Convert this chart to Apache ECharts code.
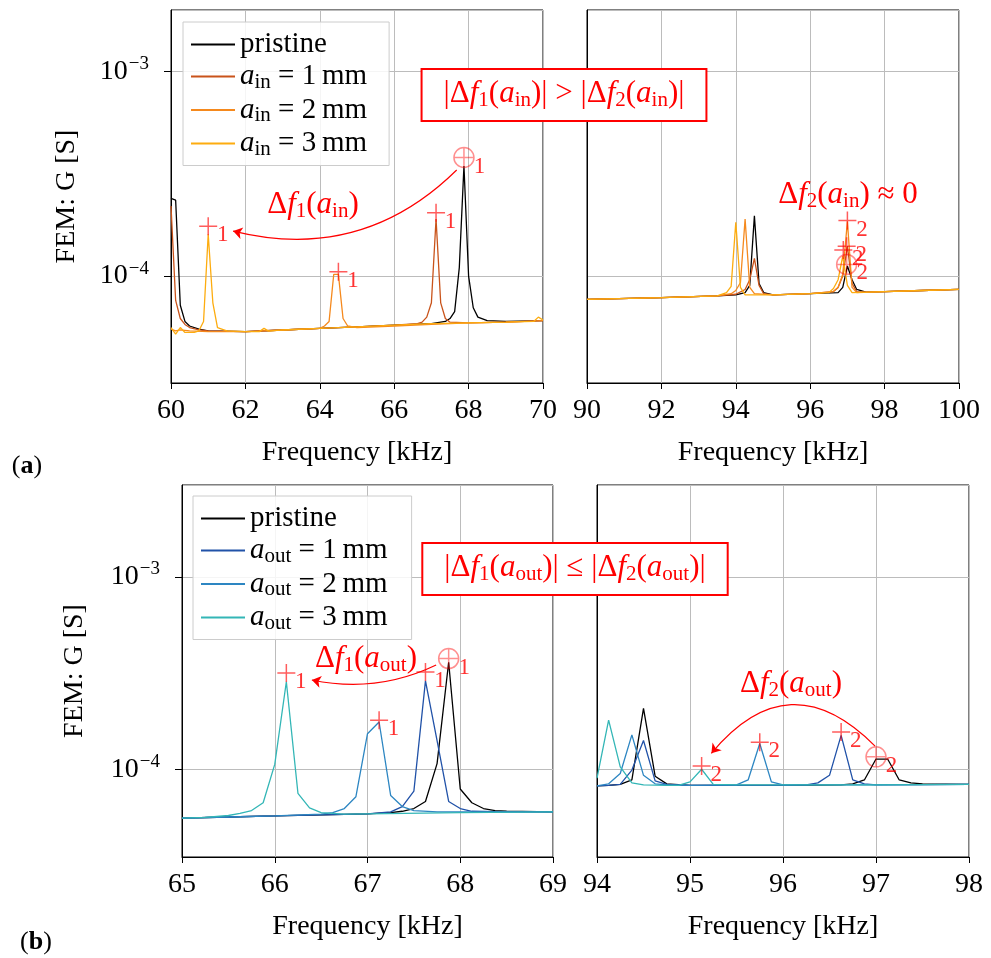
<!DOCTYPE html>
<html><head><meta charset="utf-8">
<script src="https://cdn.jsdelivr.net/npm/echarts@6/dist/echarts.min.js"></script>
<style>html,body{margin:0;padding:0;background:#fff}#c{width:991px;height:958px}</style>
</head><body><div id="c"></div>
<script>
const FONT = "'Liberation Serif','Times New Roman',serif";

// ---------- Panel (a) left: 60-70 kHz ----------
const aPristineL = [[60,2.4e-4],[60.125,2.35e-4],[60.25,7.2e-5],[60.375,6.0e-5],[60.5,5.7e-5],[60.75,5.5e-5],[61,5.4e-5],[62,5.35e-5],[63,5.45e-5],[64,5.55e-5],[65,5.65e-5],[66,5.75e-5],[67,5.85e-5],[67.375,6.0e-5],[67.5,6.2e-5],[67.625,6.7e-5],[67.75,1.1e-4],[67.875,3.45e-4],[68.0,1.0e-4],[68.125,7.0e-5],[68.25,6.3e-5],[68.5,6.05e-5],[69,6.0e-5],[70,6.05e-5]];
const aIn1L = [[60,2.2e-4],[60.125,7.6e-5],[60.25,6.2e-5],[60.375,5.8e-5],[60.5,5.6e-5],[60.75,5.45e-5],[61,5.4e-5],[62,5.35e-5],[63,5.45e-5],[64,5.55e-5],[65,5.65e-5],[66,5.75e-5],[66.625,5.85e-5],[66.75,5.95e-5],[66.875,6.3e-5],[67.0,7.4e-5],[67.125,1.9e-4],[67.25,7.4e-5],[67.375,6.2e-5],[67.5,5.95e-5],[68,5.9e-5],[69,5.95e-5],[70,6.05e-5]];
const aIn2L = [[60,5.5e-5],[60.125,5.4e-5],[60.25,5.45e-5],[60.5,5.4e-5],[61,5.35e-5],[62,5.35e-5],[63,5.45e-5],[64,5.55e-5],[64.125,5.7e-5],[64.25,6.0e-5],[64.375,1.02e-4],[64.5,1.02e-4],[64.625,6.2e-5],[64.75,5.7e-5],[65,5.6e-5],[66,5.7e-5],[67,5.8e-5],[68,5.9e-5],[69,5.95e-5],[70,6.05e-5]];
const aIn3L = [[60,5.6e-5],[60.125,5.2e-5],[60.25,5.6e-5],[60.375,5.3e-5],[60.625,5.3e-5],[60.75,5.4e-5],[60.875,6.0e-5],[61.0,1.6e-4],[61.125,7.4e-5],[61.25,5.6e-5],[61.5,5.4e-5],[62,5.35e-5],[62.375,5.35e-5],[62.5,5.55e-5],[62.625,5.38e-5],[63,5.45e-5],[64,5.55e-5],[65,5.65e-5],[66,5.75e-5],[67,5.85e-5],[68,5.9e-5],[69,5.95e-5],[69.75,6.0e-5],[69.875,6.3e-5],[70,6.1e-5]];
const aPlusL = [[61.0,1.75e-4],[64.5,1.05e-4],[67.125,2.04e-4]];
const aOplusL = [[67.875,3.8e-4]];
const aArrowL = [[67.68,3.3e-4],[61.67,1.66e-4]];

// ---------- Panel (a) right: 90-100 kHz ----------
const aPristineR = [[90,7.7e-5],[92,7.85e-5],[93.5,8.0e-5],[94.0,8.1e-5],[94.25,8.3e-5],[94.375,9.0e-5],[94.5,1.97e-4],[94.625,9.2e-5],[94.75,8.3e-5],[95,8.1e-5],[96,8.2e-5],[96.75,8.3e-5],[96.875,8.8e-5],[97.0,1.12e-4],[97.125,9.6e-5],[97.25,8.6e-5],[97.5,8.35e-5],[98,8.4e-5],[99,8.5e-5],[100,8.6e-5]];
const aIn1R = [[90,7.7e-5],[92,7.85e-5],[93.5,8.0e-5],[94.0,8.15e-5],[94.25,8.6e-5],[94.375,9.6e-5],[94.5,1.22e-4],[94.625,9.0e-5],[94.75,8.2e-5],[95,8.1e-5],[96,8.2e-5],[96.625,8.4e-5],[96.75,8.8e-5],[96.875,1.0e-4],[97.0,1.4e-4],[97.125,9.2e-5],[97.25,8.4e-5],[97.5,8.35e-5],[98,8.4e-5],[99,8.5e-5],[100,8.6e-5]];
const aIn2R = [[90,7.7e-5],[92,7.85e-5],[93.5,8.0e-5],[93.875,8.2e-5],[94.0,8.5e-5],[94.125,9.3e-5],[94.25,1.9e-4],[94.375,8.8e-5],[94.5,8.2e-5],[95,8.1e-5],[96,8.2e-5],[96.625,8.4e-5],[96.75,8.8e-5],[96.875,1.02e-4],[97.0,1.85e-4],[97.125,8.8e-5],[97.25,8.3e-5],[98,8.4e-5],[99,8.5e-5],[100,8.6e-5]];
const aIn3R = [[90,7.7e-5],[92,7.85e-5],[93.5,8.0e-5],[93.75,8.3e-5],[93.875,8.9e-5],[94.0,1.83e-4],[94.125,8.8e-5],[94.25,8.1e-5],[95,8.1e-5],[96,8.2e-5],[96.5,8.3e-5],[96.625,8.7e-5],[96.75,9.6e-5],[96.875,1.25e-4],[97.0,9.0e-5],[97.125,8.3e-5],[98,8.4e-5],[99,8.5e-5],[100,8.6e-5]];
const aPlusR = [[97.0,1.87e-4],[96.98,1.4e-4],[96.89,1.34e-4]];
const aOplusR = [[96.98,1.14e-4]];

// ---------- Panel (b) left: 65-69 kHz ----------
const bPristineL = [[65,5.57e-5],[65.5,5.65e-5],[66,5.72e-5],[66.5,5.8e-5],[67,5.87e-5],[67.25,5.95e-5],[67.375,6.05e-5],[67.5,6.25e-5],[67.625,6.8e-5],[67.75,1.07e-4],[67.875,3.6e-4],[68.0,7.9e-5],[68.125,6.7e-5],[68.25,6.25e-5],[68.375,6.1e-5],[68.5,6.05e-5],[69,6.0e-5]];
const bOut1L = [[65,5.57e-5],[65.5,5.65e-5],[66,5.72e-5],[66.5,5.8e-5],[67,5.87e-5],[67.25,6.0e-5],[67.375,6.4e-5],[67.5,7.7e-5],[67.625,2.88e-4],[67.75,1.41e-4],[67.875,6.8e-5],[68.0,6.25e-5],[68.125,6.05e-5],[68.5,6.0e-5],[69,6.0e-5]];
const bOut2L = [[65,5.57e-5],[65.5,5.65e-5],[66,5.72e-5],[66.5,5.85e-5],[66.625,5.95e-5],[66.75,6.25e-5],[66.875,7.2e-5],[67.0,1.53e-4],[67.125,1.76e-4],[67.25,7.3e-5],[67.375,6.4e-5],[67.5,6.1e-5],[67.75,6.0e-5],[68,6.0e-5],[69,6.0e-5]];
const bOut3L = [[65,5.57e-5],[65.25,5.62e-5],[65.5,5.75e-5],[65.625,5.9e-5],[65.75,6.1e-5],[65.875,6.7e-5],[66.0,1.06e-4],[66.125,2.85e-4],[66.25,7.5e-5],[66.375,6.3e-5],[66.5,5.95e-5],[66.75,5.85e-5],[67,5.87e-5],[68,5.95e-5],[69,6.0e-5]];
const bPlusL = [[66.125,3.16e-4],[67.125,1.8e-4],[67.625,3.2e-4]];
const bOplusL = [[67.875,3.76e-4]];
const bArrowL = [[67.74,3.48e-4],[66.4,2.91e-4]];

// ---------- Panel (b) right: 94-98 kHz ----------
const bPristineR = [[94,8.2e-5],[94.125,8.25e-5],[94.25,8.35e-5],[94.375,8.8e-5],[94.5,2.07e-4],[94.625,9.2e-5],[94.75,8.4e-5],[95,8.25e-5],[96,8.25e-5],[96.625,8.3e-5],[96.75,8.4e-5],[96.875,8.8e-5],[97.0,1.13e-4],[97.125,1.13e-4],[97.25,8.8e-5],[97.375,8.5e-5],[97.5,8.4e-5],[98,8.35e-5]];
const bOut1R = [[94,8.2e-5],[94.125,8.25e-5],[94.25,8.35e-5],[94.375,9.9e-5],[94.5,1.41e-4],[94.625,8.7e-5],[94.75,8.35e-5],[95,8.25e-5],[96,8.25e-5],[96.25,8.3e-5],[96.375,8.5e-5],[96.5,9.3e-5],[96.625,1.5e-4],[96.75,8.8e-5],[96.875,8.4e-5],[97,8.3e-5],[98,8.35e-5]];
const bOut2R = [[94,8.2e-5],[94.125,8.4e-5],[94.25,9.5e-5],[94.375,1.51e-4],[94.5,9.3e-5],[94.625,8.4e-5],[94.75,8.3e-5],[95,8.25e-5],[95.5,8.3e-5],[95.625,8.8e-5],[95.75,1.36e-4],[95.875,8.6e-5],[96,8.3e-5],[97,8.3e-5],[98,8.35e-5]];
const bOut3R = [[94,9.0e-5],[94.125,1.8e-4],[94.25,1.03e-4],[94.375,8.5e-5],[94.5,8.3e-5],[94.75,8.25e-5],[94.875,8.25e-5],[95,8.6e-5],[95.125,1.0e-4],[95.25,8.35e-5],[95.5,8.3e-5],[96,8.3e-5],[97,8.3e-5],[98,8.35e-5]];
const bPlusR = [[95.125,1.04e-4],[95.75,1.38e-4],[96.625,1.56e-4]];
const bOplusR = [[97.0,1.16e-4]];
const bArrowR = [[96.99,1.32e-4],[95.23,1.21e-4]];

const legendA = ['pristine','a_in = 1 mm','a_in = 2 mm','a_in = 3 mm'];
const legendB = ['pristine','a_out = 1 mm','a_out = 2 mm','a_out = 3 mm'];
const colorsA = ['#000000','#c9531a','#f5891d','#fdac0f'];
const colorsB = ['#000000','#2152a8','#2d86c2','#33b6b6'];

const PLUS = 'path://M0,5L10,5M5,0L5,10';
const OPLUS = 'path://M10,5A5,5,0,1,1,0,5A5,5,0,1,1,10,5ZM0,5L10,5M5,0L5,10';

const chart = echarts.init(document.getElementById('c'), null, {renderer:'canvas'});

const supRich = {
  b: {fontSize: 28, fontFamily: FONT, color:'#000'},
  sup: {fontSize: 19, fontFamily: FONT, color:'#000', padding:[0,0,15,1]}
};
function yFmt(v){ const e = Math.round(Math.log10(v)); return '{b|10}{sup|\u2212' + (-e) + '}'; }
function legFmt(name){
  const m = name.match(/^a_(in|out) = (\d) mm$/);
  if (m) return '{i|a}{sub|' + m[1] + '} = ' + m[2] + '\u2009mm';
  return name;
}
const legRich = {
  i: {fontStyle:'italic', fontSize:29, fontFamily:FONT, color:'#000'},
  sub: {fontSize:21, fontFamily:FONT, color:'#000', padding:[11,0,0,0]}
};

const grids = [
  {left:171, top:10, width:372, height:373},
  {left:587, top:10, width:372, height:373},
  {left:182, top:485, width:371, height:372},
  {left:597, top:485, width:372, height:372}
];
const xr = [[60,70,2],[90,100,2],[65,69,1],[94,98,1]];
const yr = [[3e-5,2e-3],[3e-5,2e-3],[3.5e-5,3e-3],[3.5e-5,3e-3]];

const xAxes = xr.map((r,i)=>({
  type:'value', gridIndex:i, min:r[0], max:r[1], interval:r[2],
  axisLine:{show:true, onZero:false, lineStyle:{color:'#000', width:1}},
  axisTick:{show:true, length:6, lineStyle:{color:'#000'}},
  axisLabel:{fontSize:28, fontFamily:FONT, color:'#000', margin:14},
  splitLine:{show:true, lineStyle:{color:'#bcbcbc', width:1}},
  name:'Frequency [kHz]', nameLocation:'middle', nameGap:56,
  nameTextStyle:{fontSize:28, fontFamily:FONT, color:'#000'}
}));
const yAxes = yr.map((r,i)=>{
  const left = (i % 2 === 0);
  return {
    type:'log', logBase:10, gridIndex:i, min:r[0], max:r[1],
    axisLine:{show:true, lineStyle:{color:'#000', width:1}},
    axisTick:{show:left, length:7, lineStyle:{color:'#000'}},
    axisLabel:{show:left, formatter:yFmt, rich:supRich, margin:22, showMinLabel:false, showMaxLabel:false},
    splitLine:{show:true, lineStyle:{color:'#bcbcbc', width:1}},
    name: left ? 'FEM: G [S]' : '', nameLocation:'middle', nameGap: i===0 ? 90 : 93,
    nameTextStyle:{fontSize:28, fontFamily:FONT, color:'#000'}
  };
});

function line(name, data, color, idx){
  return {type:'line', name, data, xAxisIndex:idx, yAxisIndex:idx, symbol:'none', showSymbol:false,
    lineStyle:{color, width:1.3}, itemStyle:{color}, silent:true, z:2};
}
function marks(data, sym, idx, lab, alpha, size){
  return {type:'scatter', name:'marks', data, xAxisIndex:idx, yAxisIndex:idx,
    symbol:sym, symbolSize:size, silent:true, z:5,
    itemStyle:{color:'transparent', borderColor:'rgba(255,0,0,'+alpha+')', borderWidth:1.5},
    label:{show:true, position:'right', distance:-1, offset:[0,9], formatter:lab, color:'#f00', fontSize:23, fontFamily:FONT}};
}
function arrow(pts, idx, curv){
  return {type:'lines', coordinateSystem:'cartesian2d', xAxisIndex:idx, yAxisIndex:idx, silent:true, z:6,
    symbol:['none','arrow'], symbolSize:9, effect:{show:false},
    lineStyle:{color:'#f00', width:1.2, opacity:1, curveness:curv},
    data:[{coords:pts}]};
}

const series = [];
[aPristineL,aIn1L,aIn2L,aIn3L].forEach((d,k)=>series.push(line(legendA[k], d, colorsA[k], 0)));
[aPristineR,aIn1R,aIn2R,aIn3R].forEach((d,k)=>series.push(line(legendA[k], d, colorsA[k], 1)));
[bPristineL,bOut1L,bOut2L,bOut3L].forEach((d,k)=>series.push(line(legendB[k], d, colorsB[k], 2)));
[bPristineR,bOut1R,bOut2R,bOut3R].forEach((d,k)=>series.push(line(legendB[k], d, colorsB[k], 3)));
series.push(marks(aPlusL, PLUS, 0, '1', 0.8, 18));
series.push(marks(aOplusL, OPLUS, 0, '1', 0.55, 20));
series.push(arrow(aArrowL, 0, 0.28));
series.push(marks(aPlusR, PLUS, 1, '2', 0.8, 18));
series.push(marks(aOplusR, OPLUS, 1, '2', 0.55, 20));
series.push(marks(bPlusL, PLUS, 2, '1', 0.8, 18));
series.push(marks(bOplusL, OPLUS, 2, '1', 0.55, 20));
series.push(arrow(bArrowL, 2, 0.17));
series.push(marks(bPlusR, PLUS, 3, '2', 0.8, 18));
series.push(marks(bOplusR, OPLUS, 3, '2', 0.55, 20));
series.push(arrow(bArrowR, 3, -0.55));

const legendCommon = {orient:'vertical', icon:'rect', itemWidth:44, itemHeight:2, itemGap:3,
  backgroundColor:'rgba(255,255,255,0.85)', borderColor:'#cccccc', borderWidth:1,
  formatter:legFmt, selectedMode:false,
  textStyle:{fontSize:29, fontFamily:FONT, color:'#000', rich:legRich}};

const redRich = {
  i: {fontStyle:'italic', fontSize:31, fontFamily:FONT, fill:'#f00'},
  sub: {fontSize:21, fontFamily:FONT, fill:'#f00', padding:[13,0,0,0]}
};
function redText(x, y, text, box){
  const st = {text, fontSize:31, fontFamily:FONT, fill:'#f00', align:'center', verticalAlign:'middle', rich:redRich};
  if (box) { st.backgroundColor='#fff'; st.borderColor='#f00'; st.borderWidth=2; st.padding=[7,21,9,21]; }
  return {type:'text', x, y, z:100, silent:true, style:st};
}
const blackRich = {b:{fontWeight:'bold', fontSize:26, fontFamily:FONT, fill:'#000'}};
function panelTag(x, y, letter){
  return {type:'text', x, y, z:100, silent:true, style:{text:'({b|'+letter+'})', fontSize:26, fontFamily:FONT, fill:'#000', align:'center', verticalAlign:'middle', rich:blackRich}};
}

chart.setOption({
  animation:false,
  textStyle:{fontFamily:FONT},
  grid: grids.map(g=>Object.assign({show:true, borderColor:'#000', borderWidth:1, backgroundColor:'transparent'}, g)),
  xAxis: xAxes,
  yAxis: yAxes,
  legend: [
    Object.assign({left:183, top:22, data:legendA, padding:[8,22,6,8]}, legendCommon),
    Object.assign({left:193, top:496, data:legendB, padding:[8,24,6,8]}, legendCommon)
  ],
  series,
  graphic: [
    redText(564, 95, '|\u0394{i|f}{sub|1}({i|a}{sub|in})| > |\u0394{i|f}{sub|2}({i|a}{sub|in})|', true),
    redText(313, 205, '\u0394{i|f}{sub|1}({i|a}{sub|in})', false),
    redText(848, 195, '\u0394{i|f}{sub|2}({i|a}{sub|in}) \u2248 0', false),
    redText(575, 569, '|\u0394{i|f}{sub|1}({i|a}{sub|out})| \u2264 |\u0394{i|f}{sub|2}({i|a}{sub|out})|', true),
    redText(366, 659, '\u0394{i|f}{sub|1}({i|a}{sub|out})', false),
    redText(791, 684, '\u0394{i|f}{sub|2}({i|a}{sub|out})', false),
    panelTag(27, 466, 'a'),
    panelTag(36, 942, 'b')
  ]
});
</script></body></html>
